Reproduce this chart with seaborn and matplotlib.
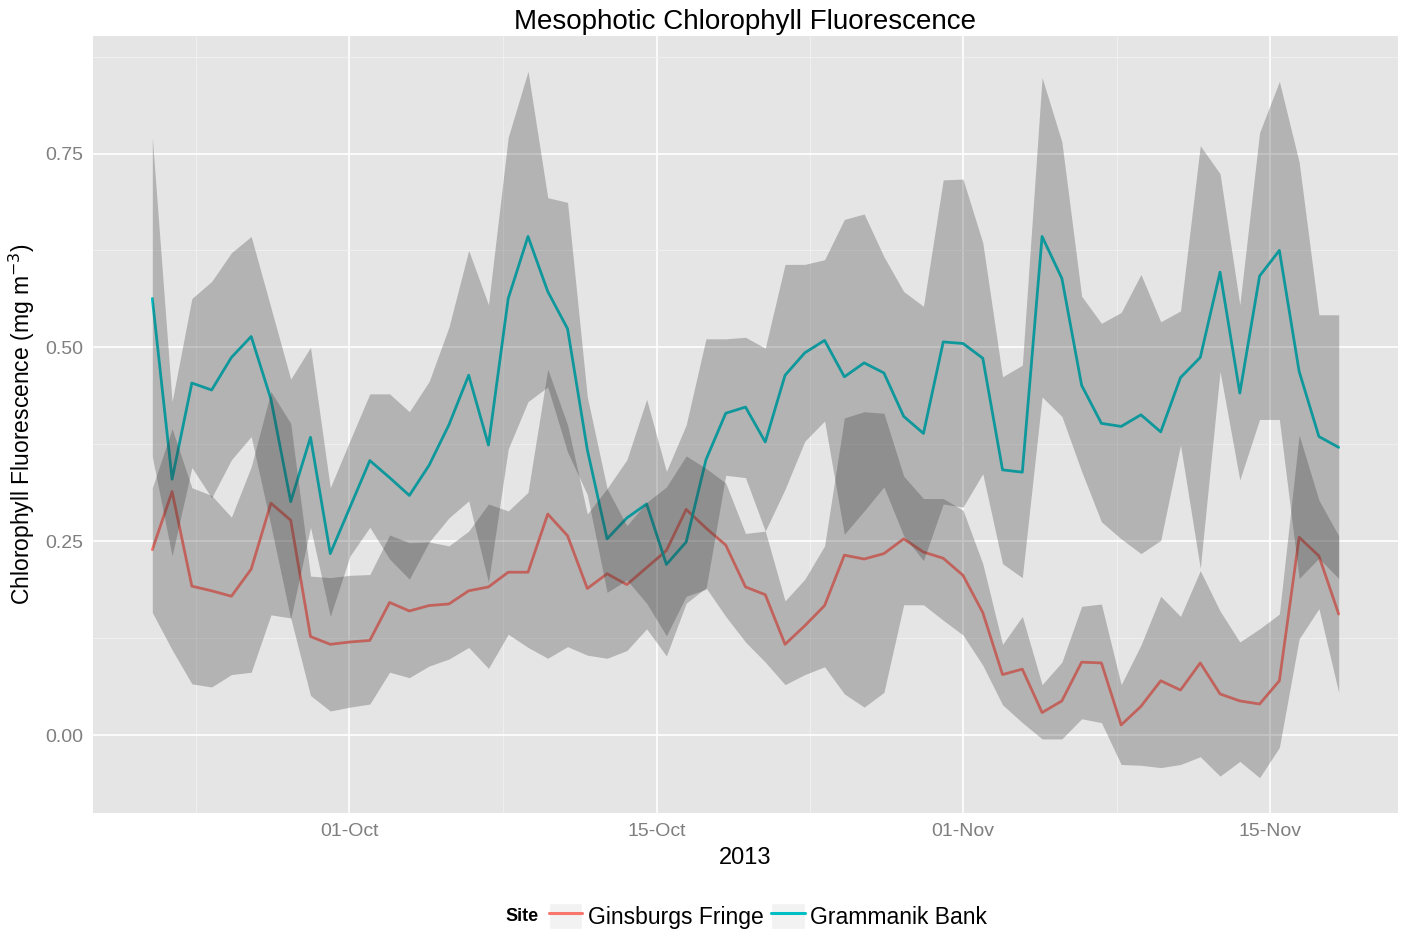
import matplotlib
matplotlib.use("Agg")
import matplotlib.pyplot as plt
import pandas as pd
import numpy as np
import seaborn as sns
from matplotlib.lines import Line2D
from matplotlib.patches import Rectangle
from matplotlib.legend_handler import HandlerTuple

# daily index from the first sample (ticks below carry the date labels)
day = list(range(61))

ginsburgs_mean = [0.239, 0.314, 0.192, 0.186, 0.179, 0.214, 0.299, 0.277, 0.127, 0.117,
                  0.120, 0.122, 0.171, 0.160, 0.167, 0.169, 0.186, 0.191, 0.210, 0.210,
                  0.285, 0.257, 0.189, 0.208, 0.194, 0.216, 0.238, 0.291, 0.267, 0.245,
                  0.191, 0.181, 0.117, 0.141, 0.167, 0.232, 0.227, 0.234, 0.253, 0.236,
                  0.228, 0.206, 0.158, 0.078, 0.085, 0.029, 0.044, 0.094, 0.093, 0.013,
                  0.037, 0.070, 0.058, 0.093, 0.053, 0.044, 0.040, 0.070, 0.255, 0.231,
                  0.156]
ginsburgs_upper = [0.319, 0.395, 0.319, 0.309, 0.281, 0.346, 0.443, 0.402, 0.205, 0.203,
                   0.206, 0.207, 0.258, 0.248, 0.249, 0.244, 0.263, 0.298, 0.289, 0.313,
                   0.472, 0.400, 0.285, 0.318, 0.270, 0.300, 0.320, 0.360, 0.344, 0.325,
                   0.260, 0.263, 0.173, 0.201, 0.244, 0.409, 0.417, 0.415, 0.334, 0.305,
                   0.305, 0.290, 0.221, 0.117, 0.153, 0.065, 0.094, 0.166, 0.169, 0.065,
                   0.116, 0.179, 0.153, 0.212, 0.160, 0.120, 0.137, 0.156, 0.387, 0.303,
                   0.257]
ginsburgs_lower = [0.158, 0.110, 0.066, 0.062, 0.078, 0.081, 0.155, 0.151, 0.051, 0.031,
                   0.036, 0.040, 0.081, 0.074, 0.089, 0.098, 0.113, 0.086, 0.130, 0.113,
                   0.099, 0.114, 0.103, 0.099, 0.109, 0.137, 0.102, 0.170, 0.190, 0.153,
                   0.120, 0.094, 0.065, 0.078, 0.088, 0.053, 0.036, 0.055, 0.168, 0.168,
                   0.148, 0.129, 0.090, 0.039, 0.016, -0.005, -0.005, 0.021, 0.016, -0.038,
                   -0.039, -0.042, -0.038, -0.028, -0.053, -0.034, -0.055, -0.016, 0.124, 0.163,
                   0.055]

grammanik_mean = [0.563, 0.330, 0.454, 0.445, 0.487, 0.514, 0.433, 0.301, 0.384, 0.234,
                  0.294, 0.354, 0.332, 0.309, 0.348, 0.400, 0.464, 0.374, 0.563, 0.643,
                  0.572, 0.524, 0.368, 0.253, 0.280, 0.298, 0.220, 0.249, 0.355, 0.415,
                  0.423, 0.378, 0.464, 0.493, 0.509, 0.462, 0.480, 0.467, 0.411, 0.389,
                  0.507, 0.505, 0.486, 0.342, 0.339, 0.643, 0.589, 0.451, 0.402, 0.398,
                  0.413, 0.391, 0.461, 0.487, 0.597, 0.441, 0.592, 0.625, 0.469, 0.385,
                  0.371]
grammanik_upper = [0.771, 0.430, 0.563, 0.585, 0.622, 0.643, 0.551, 0.459, 0.500, 0.319,
                   0.380, 0.440, 0.440, 0.417, 0.456, 0.526, 0.625, 0.555, 0.771, 0.856,
                   0.693, 0.687, 0.436, 0.318, 0.355, 0.433, 0.340, 0.400, 0.511, 0.511,
                   0.513, 0.499, 0.607, 0.607, 0.613, 0.665, 0.672, 0.617, 0.572, 0.553,
                   0.716, 0.717, 0.635, 0.462, 0.477, 0.848, 0.765, 0.566, 0.531, 0.545,
                   0.594, 0.533, 0.547, 0.760, 0.724, 0.555, 0.777, 0.843, 0.739, 0.542,
                   0.542]
grammanik_lower = [0.359, 0.231, 0.345, 0.306, 0.355, 0.385, 0.270, 0.150, 0.268, 0.153,
                   0.231, 0.268, 0.227, 0.201, 0.249, 0.280, 0.302, 0.197, 0.369, 0.430,
                   0.449, 0.365, 0.310, 0.184, 0.200, 0.170, 0.128, 0.179, 0.188, 0.335,
                   0.332, 0.263, 0.317, 0.379, 0.405, 0.259, 0.289, 0.320, 0.257, 0.225,
                   0.298, 0.294, 0.337, 0.221, 0.203, 0.436, 0.411, 0.340, 0.275, 0.253,
                   0.234, 0.251, 0.374, 0.215, 0.469, 0.329, 0.407, 0.407, 0.202, 0.228,
                   0.202]

sites = ["Ginsburgs Fringe", "Grammanik Bank"]
colors = ["#F8766D", "#00BFC4"]

tick_labels = ["01-Oct", "15-Oct", "01-Nov", "15-Nov"]
tick_pos = [9.96, 25.5, 41.0, 56.55]

df = pd.DataFrame({
    "day": day * 2,
    "chl": ginsburgs_mean + grammanik_mean,
    "Site": [sites[0]] * len(day) + [sites[1]] * len(day),
})

sns.set_theme(style="darkgrid")
plt.rcParams["font.family"] = ["Liberation Sans", "DejaVu Sans"]

fig = plt.figure(figsize=(14.01, 9.30), dpi=100)
ax = fig.add_axes([93 / 1401, 1 - 813 / 930, (1398 - 93) / 1401, (813 - 36) / 930])
ax.set_facecolor("#E5E5E5")

# lines go under the ribbons, like the original
sns.lineplot(data=df, x="day", y="chl", hue="Site", palette=colors,
             linewidth=2.0, ax=ax, legend=False, zorder=2)
ax.fill_between(day, ginsburgs_lower, ginsburgs_upper, color="#333333", alpha=0.28,
                linewidth=0, zorder=3)
ax.fill_between(day, grammanik_lower, grammanik_upper, color="#333333", alpha=0.28,
                linewidth=0, zorder=3)

ax.set_yticks([0.0, 0.25, 0.5, 0.75])
ax.set_yticklabels(["0.00", "0.25", "0.50", "0.75"])
ax.set_yticks([0.125, 0.375, 0.625, 0.875], minor=True)
ax.set_xticks(tick_pos)
ax.set_xticklabels(tick_labels)
minor_x = [(tick_pos[i] + tick_pos[i + 1]) / 2 for i in range(3)]
ax.set_xticks([tick_pos[0] - (tick_pos[1] - tick_pos[0]) / 2] + minor_x, minor=True)

# limits with ggplot style 5% padding (set after the ticks)
lo = min(ginsburgs_lower + grammanik_lower)
hi = max(ginsburgs_upper + grammanik_upper)
pad = (hi - lo) * 0.05
ax.set_ylim(lo - pad, hi + pad)
ax.set_xlim(-3, 63)

ax.grid(which="major", color="white", linewidth=1.2)
ax.grid(which="minor", color="#F2F2F2", linewidth=0.6)
ax.set_axisbelow(True)
for s in ax.spines.values():
    s.set_visible(False)
ax.tick_params(axis="both", which="major", length=4, width=1, color="#7F7F7F",
               labelcolor="#7F7F7F", labelsize=14, pad=3)
ax.tick_params(axis="both", which="minor", length=0)

ax.set_xlabel("2013", fontsize=17, labelpad=5, color="black")
ax.set_ylabel("Chlorophyll Fluorescence (mg m$^{-3}$)", fontsize=16.5, labelpad=6,
              color="black")
ax.set_title("Mesophotic Chlorophyll Fluorescence", fontsize=20, pad=5, color="black")

# legend at the bottom, title on the left
handles = [(Rectangle((0, 0), 1, 1, facecolor="#F2F2F2", edgecolor="white"),
            Line2D([], [], color=c, linewidth=2.2)) for c in colors]
fig.legend(handles, sites, handler_map={tuple: HandlerTuple(ndivide=1, pad=0)},
           loc="center", bbox_to_anchor=(768 / 1401, 1 - 916 / 930), ncol=2,
           frameon=False, fontsize=16.5, handlelength=1.45, handleheight=1.35,
           handletextpad=0.25, columnspacing=0.35, labelcolor="black")
fig.text(522 / 1401, 1 - 916 / 930, "Site", fontsize=13, fontweight="bold",
         ha="center", va="center", color="black")

fig.savefig("out.png", dpi=100)
